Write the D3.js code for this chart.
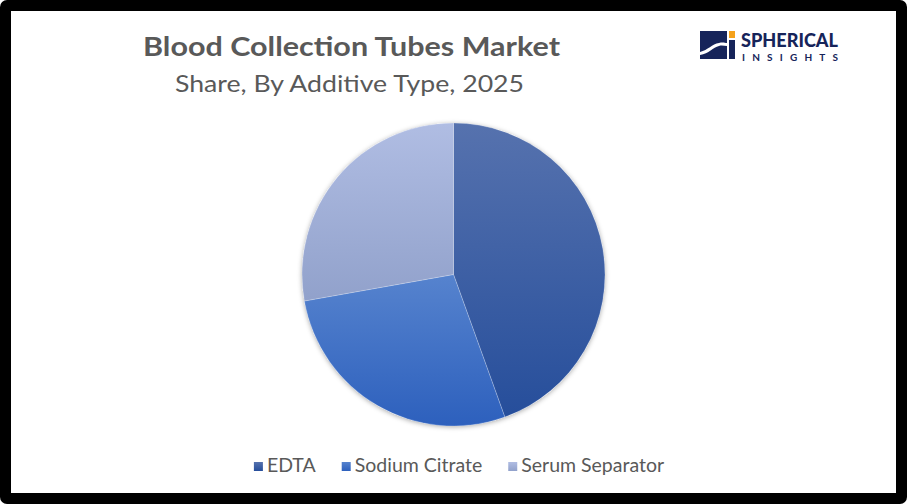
<!DOCTYPE html>
<html><head><meta charset="utf-8">
<script src="https://cdn.jsdelivr.net/npm/d3@7"></script>
<style>html,body{margin:0;padding:0;background:#fff}svg{display:block}</style>
</head><body>
<svg id="c" width="907" height="504"></svg>
<script>
const categories = ["EDTA", "Sodium Citrate", "Serum Separator"];
const shares = [44.5, 27.7, 27.8];
const colorTop = ["#5672ae", "#5683ce", "#b0bde3"];
const colorBottom = ["#264e9b", "#2d60bd", "#91a1cb"];
const titleText = "Blood Collection Tubes Market";
const subtitleText = "Share, By Additive Type, 2025";

const svg = d3.select("#c");
const W = 907, H = 504;
const font = "Lato, 'Open Sans', sans-serif";
const textColor = "#595959";

// frame
svg.append("rect").attr("x",0).attr("y",0).attr("width",W).attr("height",H).attr("rx",7).attr("fill","#000");
svg.append("rect").attr("x",11).attr("y",11).attr("width",885).attr("height",482).attr("fill","#fff");

const defs = svg.append("defs");
categories.forEach((c,i)=>{
  const g = defs.append("linearGradient").attr("id","g"+i).attr("x1",0).attr("y1",0).attr("x2",0).attr("y2",1);
  g.append("stop").attr("offset","0%").attr("stop-color",colorTop[i]);
  g.append("stop").attr("offset","100%").attr("stop-color",colorBottom[i]);
});
const f = defs.append("filter").attr("id","sh").attr("x","-10%").attr("y","-10%").attr("width","120%").attr("height","120%");
f.append("feDropShadow").attr("dx",0).attr("dy",1).attr("stdDeviation",2.5).attr("flood-color","#000").attr("flood-opacity",0.35);

// title
svg.append("text").attr("x",143).attr("y",56).attr("textLength",417).attr("lengthAdjust","spacingAndGlyphs")
  .attr("font-family",font).attr("font-weight","bold").attr("font-size",27).attr("fill",textColor).text(titleText);
svg.append("text").attr("x",175).attr("y",92).attr("textLength",349).attr("lengthAdjust","spacingAndGlyphs")
  .attr("font-family",font).attr("font-size",24).attr("fill",textColor).text(subtitleText);

// pie
const cx = 453.5, cy = 274.5, r = 151.5;
const pie = d3.pie().sort(null).value(d=>d);
const arc = d3.arc().innerRadius(0).outerRadius(r);
const pg = svg.append("g").attr("transform",`translate(${cx},${cy})`);
const shadowG = pg.append("g").attr("filter","url(#sh)");
shadowG.append("circle").attr("r",r).attr("fill","#fff");
pg.selectAll("path.s").data(pie(shares)).join("path").attr("class","s")
  .attr("d",arc).attr("fill",(d,i)=>`url(#g${i})`)
  .attr("stroke","rgba(255,255,255,0.35)").attr("stroke-width",0.6);

// legend
const lg = svg.append("g");
let x = 0;
categories.forEach((c,i)=>{
  const it = lg.append("g").attr("transform",`translate(${x},0)`);
  it.append("rect").attr("x",0).attr("y",-10).attr("width",9).attr("height",9).attr("fill",`url(#g${i})`);
  const t = it.append("text").attr("x",13).attr("y",0).attr("font-family",font).attr("font-size",19.5).attr("fill",textColor).text(c);
  const w = t.node().getComputedTextLength();
  x += 13 + w + 26;
});
const total = x - 26;
lg.attr("transform",`translate(${459 - total/2},472)`);

// logo
const logo = svg.append("g");
const navy = "#16245a";
logo.append("rect").attr("x",700).attr("y",31).attr("width",27).attr("height",28).attr("fill",navy);
logo.append("path").attr("d","M700,52 C708,50 712,44 719,43 C723,42 725,43 727,43 L727,46 C724,46 722,45 719,46 C713,47 709,54 700,55 Z").attr("fill","#fff");
logo.append("rect").attr("x",729).attr("y",40).attr("width",6).attr("height",19).attr("fill",navy);
logo.append("rect").attr("x",729).attr("y",31).attr("width",6).attr("height",7).attr("fill","#f5a21b");
logo.append("text").attr("x",741).attr("y",47).attr("textLength",97).attr("lengthAdjust","spacingAndGlyphs")
  .attr("font-family",font).attr("font-weight","900").attr("font-size",19).attr("fill",navy).text("SPHERICAL");
logo.append("text").attr("x",742).attr("y",60.5).attr("textLength",96).attr("lengthAdjust","spacing")
  .attr("font-family",font).attr("font-weight","bold").attr("font-size",10).attr("fill",navy).text("INSIGHTS");
</script>
</body></html>
